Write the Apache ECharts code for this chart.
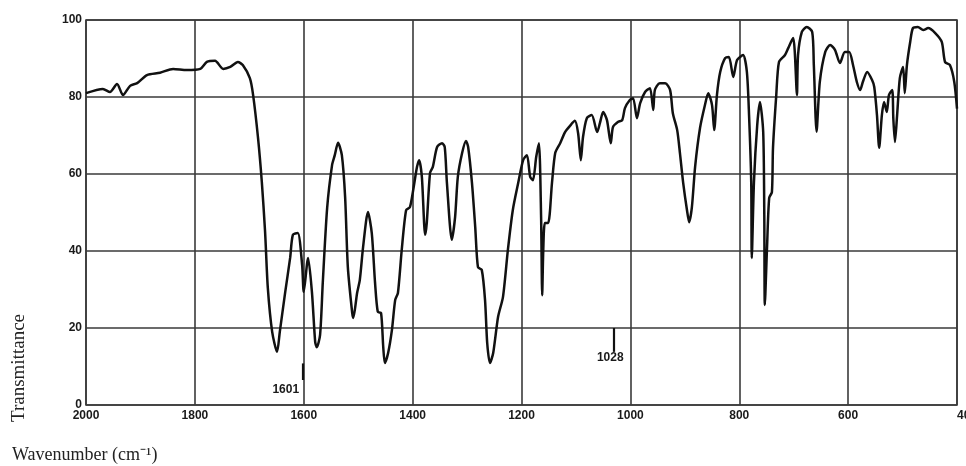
<!DOCTYPE html>
<html>
<head>
<meta charset="utf-8">
<script src="https://cdn.jsdelivr.net/npm/echarts@6/dist/echarts.min.js"></script>
<style>html,body{margin:0;padding:0;background:#fff;}#c{width:966px;height:466px;}</style>
</head>
<body>
<div id="c"></div>
<script>
const wavenumbers = [2000,1969,1956,1943,1932,1919,1906,1888,1864,1840,1815,1790,1778,1763,1748,1735,1721,1712,1699,1693,1684,1677,1671,1666,1658,1649,1644,1634,1625,1620,1611,1603,1600,1592,1585,1579,1576,1570,1565,1557,1548,1543,1537,1530,1524,1519,1511,1509,1502,1497,1491,1482,1475,1469,1464,1458,1454,1451,1445,1438,1432,1427,1420,1412,1405,1399,1392,1388,1383,1377,1374,1368,1363,1355,1346,1341,1337,1328,1322,1317,1309,1302,1298,1291,1285,1280,1273,1267,1263,1258,1252,1243,1234,1225,1216,1206,1197,1190,1184,1179,1173,1168,1164,1162,1160,1157,1151,1144,1138,1129,1120,1111,1102,1096,1091,1087,1080,1071,1061,1056,1050,1043,1036,1032,1023,1015,1010,1001,995,988,982,973,964,958,955,946,936,927,922,914,909,903,896,892,887,881,872,863,857,850,846,841,835,826,819,811,804,793,786,782,778,777,773,767,762,756,754,753,749,745,740,738,732,727,716,710,701,698,694,692,685,676,666,663,658,652,642,633,624,615,606,598,591,584,578,573,565,556,552,547,543,538,534,529,525,519,517,514,510,505,499,496,492,486,481,472,462,453,440,428,422,413,405,400];
const transmittance = [81,82.1,81.3,83.4,80.5,82.9,83.6,85.7,86.3,87.3,87,87.3,89.1,89.4,87.3,87.8,89.1,88.3,84.9,80.5,69.4,57.9,44.9,30.4,19,13.8,19,29.4,38.2,44.2,44.7,36.4,29.4,38.2,29.4,16.4,15,18.2,31.9,51.2,62.3,64.9,68.1,64.9,54,35.8,23.9,22.6,29.1,32.5,41,50.1,44.6,31.7,24.2,23.9,15.1,10.9,13.5,19.5,27.3,29.1,40.3,50.6,51.4,55.8,61.8,63.6,59.2,44.2,47.3,60.3,61.8,67,68,67,57.7,42.9,48.8,59.2,65.5,68.6,67,57.7,46.2,35.8,35.1,27.3,16.1,10.9,13.5,22.9,28.1,40.3,50.6,57.7,63.6,64.9,59.2,58.4,64.4,68,48.8,28.5,40.3,47.3,47.3,57.7,65.5,68,70.9,72.5,73.8,70.6,63.6,69.6,74.5,75.3,70.9,73.2,76.1,74,68,72.2,73.5,74,77.1,79.2,79.7,74.5,78.4,81.3,82.3,76.6,81.8,83.6,83.6,81.8,75.8,71.4,65.5,57.7,50.6,47.5,51.4,62,72,77.9,81,77.9,71.4,80.5,86.5,90.1,90.4,85.2,89.6,90.9,86.5,75.3,57.9,38.2,57.9,72.7,78.7,70.9,49.4,26,40.8,53.8,55.3,66.8,80.5,89.1,90.9,92.7,95.3,91.7,80.5,90.9,96.9,98.2,96.9,88.3,71,83.9,91.7,93.5,92.2,88.8,91.7,91.7,88.3,83.9,81.8,83.9,86.5,84.4,82.6,75.3,66.8,75.3,78.7,76.1,80.5,81.8,74.5,68.3,75.3,84.9,87.8,81,88.3,94.3,97.9,98.2,97.4,97.9,96.6,94.3,89.1,88.3,83.9,77];
const xTicks = [2000,1800,1600,1400,1200,1000,800,600,400];
const yTicks = [0,20,40,60,80,100];
const peakLabels = ['1601','1028'];
const peakPositions = [1601,1030];
const peakTickTop = [10.8,20];
const peakTickBottom = [6.5,13.8];
const peakLabelX = [1633,1037];
const peakLabelY = [3.9,12.2];

const chart = echarts.init(document.getElementById('c'));
const gridColor = '#3a3a3a';
const tickFont = {color:'#1a1a1a', fontSize:12, fontWeight:'bold', fontFamily:'Liberation Sans, Arial, sans-serif'};
chart.setOption({
  animation:false,
  backgroundColor:'#fff',
  grid:{left:86,right:9,top:20,bottom:61,containLabel:false,outerBoundsMode:'none',show:true,borderColor:gridColor,borderWidth:1.6,backgroundColor:'transparent'},
  xAxis:{type:'value',min:400,max:2000,interval:200,inverse:true,
    axisLine:{show:false},axisTick:{show:false},
    splitLine:{show:true,lineStyle:{color:gridColor,width:1.6}},
    axisLabel:Object.assign({margin:5,alignMinLabel:'left',formatter:v=>xTicks.includes(v)?String(v):''},tickFont)},
  yAxis:{type:'value',min:0,max:100,interval:20,
    axisLine:{show:false},axisTick:{show:false},
    splitLine:{show:true,lineStyle:{color:gridColor,width:1.6}},
    axisLabel:Object.assign({margin:4,formatter:v=>yTicks.includes(v)?String(v):''},tickFont)},
  graphic:[
    {type:'text',left:12,top:446,style:{text:'Wavenumber (cm⁻¹)',font:'18px "Liberation Serif", "Times New Roman", serif',fill:'#222'}},
    {type:'text',x:19,y:368,rotation:Math.PI/2,style:{text:'Transmittance',font:'19px "Liberation Serif", "Times New Roman", serif',fill:'#222',align:'center',verticalAlign:'middle'}}
  ],
  series:[{
    type:'line',
    data:wavenumbers.map((w,i)=>[w,transmittance[i]]),
    showSymbol:false,
    smooth:0.25,
    lineStyle:{color:'#111',width:2.5},
    markLine:{silent:true,symbol:'none',label:{show:false},
      lineStyle:{color:'#111',width:2.2,type:'solid'},
      data:peakPositions.map((p,i)=>[{coord:[p,peakTickTop[i]]},{coord:[p,peakTickBottom[i]]}])},
    markPoint:{silent:true,symbol:'rect',symbolSize:0,
      label:{show:true,position:'inside',formatter:'{b}',color:'#1a1a1a',fontSize:12,fontWeight:'bold',fontFamily:'Liberation Sans, Arial, sans-serif'},
      data:peakLabels.map((t,i)=>({name:t,coord:[peakLabelX[i],peakLabelY[i]]}))}
  }]
});
</script>
</body>
</html>
